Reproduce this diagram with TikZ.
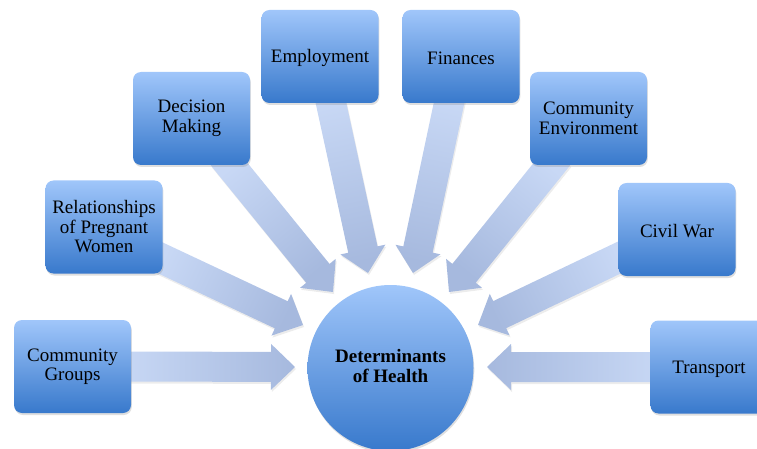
\documentclass[tikz,border=0pt]{standalone}
\usepackage{fontspec}
\setmainfont{Liberation Serif}
\usetikzlibrary{calc,shadows,backgrounds}
\definecolor{boxtop}{RGB}{160,198,250}
\definecolor{boxbot}{RGB}{56,121,204}
\definecolor{arrlight}{RGB}{200,216,245}
\definecolor{arrdark}{RGB}{166,185,222}
\tikzset{
  factor/.style={rectangle, rounded corners=8pt, minimum width=117pt, minimum height=93pt,
    inner sep=0pt, top color=boxtop, bottom color=boxbot, align=center,
    font=\fontsize{19}{19.5}\selectfont,
    execute at begin node={\rule{0pt}{17pt}},
    drop shadow={shadow xshift=0.8pt, shadow yshift=-2pt, opacity=0.25}},
  hub/.style={circle, minimum size=166pt, inner sep=0pt, top color=boxtop, bottom color=boxbot,
    align=center, font=\fontsize{19}{19.5}\selectfont\bfseries,
    execute at end node={\rule[-4pt]{0pt}{0pt}},
    drop shadow={shadow xshift=0.8pt, shadow yshift=-2pt, opacity=0.25}},
  arrowbody/.style={top color=arrlight, bottom color=arrdark,
    drop shadow={shadow xshift=1pt, shadow yshift=-2pt, opacity=0.15}}
}
\newcommand\blockarrow[2]{%
  \coordinate (bas) at ($(#1)!-12pt!(#2)$);
  \coordinate (ban) at ($(#2)!24pt!(#1)$);
  \path (bas); \pgfgetlastxy\baxa\baya
  \path (#2); \pgfgetlastxy\baxb\bayb
  \pgfmathsetmacro\baang{atan2(\bayb-\baya,\baxb-\baxa)+90}
  \path[arrowbody, shading angle=\baang]
    ($(bas)!15pt!90:(#2)$) -- ($(ban)!15pt!90:(#2)$) -- ($(ban)!23pt!90:(#2)$) -- (#2)
    -- ($(ban)!23pt!-90:(#2)$) -- ($(ban)!15pt!-90:(#2)$) -- ($(bas)!15pt!-90:(#2)$) -- cycle;
}
\begin{document}
\begin{tikzpicture}[x=1pt,y=-1pt]
\useasboundingbox (0,0) rectangle (757,449);
\clip (0,0) rectangle (757,449);
\node[hub] (hc) at (390.5,368) {Determinants\\of Health};
\node[factor] (cg) at (72.5,366.5) {Community\\Groups};
\node[factor] (rel) at (104,227) {Relationships\\of Pregnant\\Women};
\node[factor] (dm) at (191.5,118.5) {Decision\\Making};
\node[factor] (emp) at (320,56.5) {Employment};
\node[factor] (fin) at (461,56.5) {Finances};
\node[factor] (ce) at (588.5,118.5) {Community\\Environment};
\node[factor] (cw) at (677,229.5) {Civil War};
\node[factor] (tr) at (709,367) {Transport};
% arrow exit points and tips
\coordinate (e2) at ($(rel.east)+(0,32)$);
\coordinate (e3) at ($(dm.south)+(38.5,0)$);
\coordinate (e4) at ($(emp.south)+(11,0)$);
\coordinate (e5) at ($(fin.south)+(-12,0)$);
\coordinate (e6) at ($(ce.south)+(-37.5,0)$);
\coordinate (e7) at ($(cw.west)+(0,28.5)$);
\coordinate (t1) at (295,367);
\coordinate (t2) at (303,325);
\coordinate (t3) at (333,292);
\coordinate (t4) at (368,273);
\coordinate (t5) at (413,273);
\coordinate (t6) at (449,292);
\coordinate (t7) at (478,325);
\coordinate (t8) at (487,367);
\begin{scope}[on background layer]
\blockarrow{cg.east}{t1}
\blockarrow{e2}{t2}
\blockarrow{e3}{t3}
\blockarrow{e4}{t4}
\blockarrow{e5}{t5}
\blockarrow{e6}{t6}
\blockarrow{e7}{t7}
\blockarrow{tr.west}{t8}
\end{scope}
\end{tikzpicture}
\end{document}
